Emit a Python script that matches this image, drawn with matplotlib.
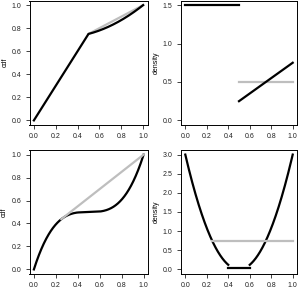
import numpy as np
import matplotlib
matplotlib.use("Agg")
import matplotlib.pyplot as plt

# top row: piecewise density on [0, 1]
top_left_level = 1.5          # density on [0, 0.5]
top_break = 0.5
top_line_ends = [0.25, 0.75]  # linear density on [0.5, 1]
top_gray_level = 0.5          # comparison density on [0.5, 1]

# bottom row: U-shaped density with a flat floor in the middle
bot_peak = 3.0                # density at x = 0 and x = 1
bot_cut = [0.4, 0.6]
bot_floor = 0.04
bot_gray_start = 0.25
bot_gray_level = 0.75

x_ticks = [0.0, 0.2, 0.4, 0.6, 0.8, 1.0]
cdf_ticks = [0.0, 0.2, 0.4, 0.6, 0.8, 1.0]
top_dens_ticks = [0.0, 0.5, 1.0, 1.5]
bot_dens_ticks = [0.0, 0.5, 1.0, 1.5, 2.0, 2.5, 3.0]

W, H = 298, 291
FONT = "Liberation Sans"
GRAY = "#BEBEBE"
LW = 1.6


def cumtrapz(x, y, start=0.0):
    out = np.concatenate([[0.0], np.cumsum(np.diff(x) * (y[1:] + y[:-1]) / 2)])
    return out + start


def parabola(x):
    return bot_peak * (2 * x - 1) ** 2


def style(ax, yticks, ylabel):
    ax.set_xlim(-0.04, 1.04)
    ax.set_ylim(yticks[0] - 0.04 * yticks[-1], yticks[-1] * 1.04)
    ax.set_xticks(x_ticks)
    ax.set_xticklabels([f"{v:.1f}" for v in x_ticks])
    ax.set_yticks(yticks)
    ax.set_yticklabels([f"{v:.1f}" for v in yticks])
    ax.tick_params(direction="out", length=3, width=0.6, labelsize=5,
                   pad=3, colors="#222222")
    for s in ax.spines.values():
        s.set_linewidth(0.7)
    for lab in ax.get_xticklabels() + ax.get_yticklabels():
        lab.set_family(FONT)
    ax.set_ylabel(ylabel, fontsize=5, family=FONT)
    ax.yaxis.set_label_coords(-0.18, 0.5)


def axes_at(fig, x0, y0, x1, y1):
    return fig.add_axes([x0 / W, 1 - y1 / H, (x1 - x0) / W, (y1 - y0) / H])


fig = plt.figure(figsize=(W / 100, H / 100), dpi=100)

# ---- top row
xa = np.linspace(0, top_break, 200)
xb = np.linspace(top_break, 1, 200)
da = np.full_like(xa, top_left_level)
db = np.interp(xb, [top_break, 1], top_line_ends)
Fa = cumtrapz(xa, da)
Fb = cumtrapz(xb, db, Fa[-1])
Fg = cumtrapz(xb, np.full_like(xb, top_gray_level), Fa[-1])

ax = axes_at(fig, 29.5, 0.5, 147.5, 125)
ax.plot(xb, Fg, color=GRAY, lw=LW)
ax.plot(np.concatenate([xa, xb]), np.concatenate([Fa, Fb]), color="black", lw=LW)
style(ax, cdf_ticks, "cdf")

ax = axes_at(fig, 181, 0.5, 297, 125)
ax.plot(xa, da, color="black", lw=LW)
ax.plot(xb, np.full_like(xb, top_gray_level), color=GRAY, lw=LW)
ax.plot(xb, db, color="black", lw=LW)
style(ax, top_dens_ticks, "density")

# ---- bottom row
x1 = np.linspace(0, bot_cut[0], 200)
x2 = np.linspace(bot_cut[0], bot_cut[1], 50)
x3 = np.linspace(bot_cut[1], 1, 200)
d1, d2, d3 = parabola(x1), np.full_like(x2, bot_floor), parabola(x3)
F1 = cumtrapz(x1, d1)
F2 = cumtrapz(x2, d2, F1[-1])
F3 = cumtrapz(x3, d3, F2[-1])
xs = np.concatenate([x1, x2, x3])
Fs = np.concatenate([F1, F2, F3])
xg = np.linspace(bot_gray_start, 1, 100)
Fg = cumtrapz(xg, np.full_like(xg, bot_gray_level), np.interp(bot_gray_start, xs, Fs))

ax = axes_at(fig, 29.5, 150, 148, 274)
ax.plot(xs, Fs, color="black", lw=LW)
ax.plot(xg, Fg, color=GRAY, lw=LW)
style(ax, cdf_ticks, "cdf")

ax = axes_at(fig, 181, 150, 297, 274)
ax.plot(x1, d1, color="black", lw=LW)
ax.plot(x2, d2, color="black", lw=LW)
ax.plot(x3, d3, color="black", lw=LW)
ax.plot(xg, np.full_like(xg, bot_gray_level), color=GRAY, lw=LW)
style(ax, bot_dens_ticks, "density")

fig.savefig("out.png", dpi=100)
